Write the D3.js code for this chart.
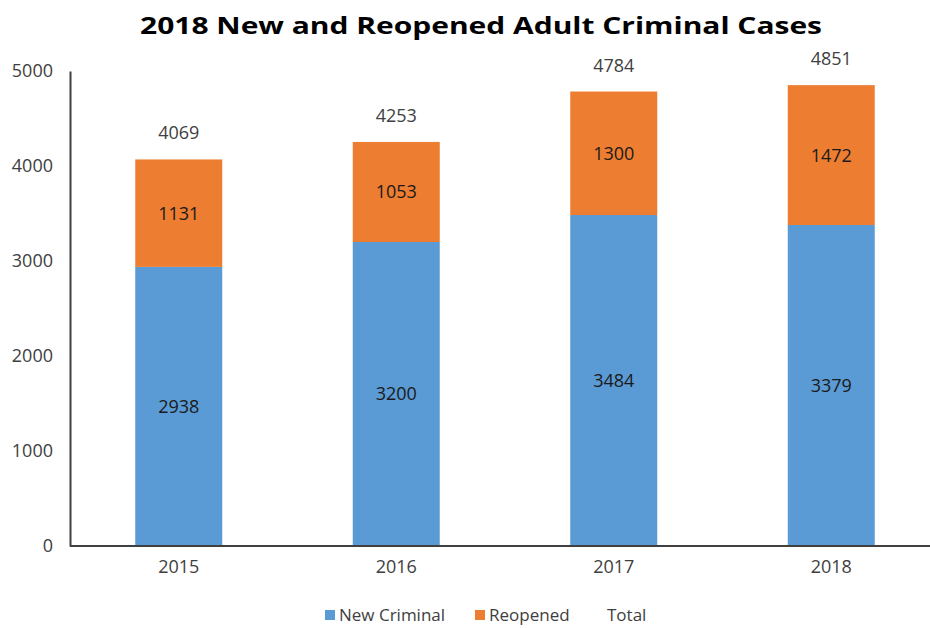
<!DOCTYPE html>
<html>
<head>
<meta charset="utf-8">
<script src="https://d3js.org/d3.v7.min.js"></script>
<style>
  html, body { margin: 0; padding: 0; background: #fff; }
  svg { display: block; font-family: "Open Sans", "DejaVu Sans", sans-serif; }
</style>
</head>
<body>
<svg id="chart" width="930" height="628"></svg>
<script>
// Annual case counts
const years = ["2015", "2016", "2017", "2018"];
const newCriminal = [2938, 3200, 3484, 3379];
const reopened = [1131, 1053, 1300, 1472];
const totals = [4069, 4253, 4784, 4851];
const yTicks = [0, 1000, 2000, 3000, 4000, 5000];
const seriesNames = ["New Criminal", "Reopened", "Total"];
const seriesColors = ["#5B9BD5", "#ED7D31", "none"];

const svg = d3.select("#chart");
const W = 930, H = 628;
const margin = { left: 70, right: 0, top: 71, bottom: 82 };
const plotBottom = H - margin.bottom;

const x = d3.scaleBand()
  .domain(years)
  .range([margin.left, 940])
  .paddingInner(0.6)
  .paddingOuter(0.3);

const y = d3.scaleLinear()
  .domain([0, 5000])
  .range([plotBottom, margin.top]);

// Title
svg.append("text")
  .attr("x", 481)
  .attr("y", 34)
  .attr("text-anchor", "middle")
  .attr("font-size", 23)
  .attr("font-weight", "bold")
  .attr("fill", "#000")
  .attr("textLength", 682)
  .attr("lengthAdjust", "spacingAndGlyphs")
  .text("2018 New and Reopened Adult Criminal Cases");

// Stacked data
const rows = years.map((yr, i) => ({ year: yr, "New Criminal": newCriminal[i], "Reopened": reopened[i], total: totals[i] }));
const stack = d3.stack().keys(["New Criminal", "Reopened"])(rows);

const layers = svg.append("g").selectAll("g")
  .data(stack)
  .join("g")
  .attr("fill", (d, i) => seriesColors[i]);

layers.selectAll("rect")
  .data(d => d)
  .join("rect")
  .attr("x", d => x(d.data.year))
  .attr("width", x.bandwidth())
  .attr("y", d => y(d[1]))
  .attr("height", d => y(d[0]) - y(d[1]));

// Segment value labels
layers.selectAll("text")
  .data(d => d)
  .join("text")
  .attr("x", d => x(d.data.year) + x.bandwidth() / 2)
  .attr("y", d => (y(d[0]) + y(d[1])) / 2)
  .attr("dy", "0.36em")
  .attr("text-anchor", "middle")
  .attr("font-size", 18)
  .attr("fill", "#1a1a1a")
  .text(d => d[1] - d[0]);

// Total labels above each bar
svg.append("g").selectAll("text")
  .data(rows)
  .join("text")
  .attr("x", d => x(d.year) + x.bandwidth() / 2)
  .attr("y", d => y(d.total) - 20)
  .attr("text-anchor", "middle")
  .attr("font-size", 18)
  .attr("fill", "#404040")
  .text(d => d.total);

// Y axis
const yAxis = svg.append("g")
  .attr("transform", `translate(${margin.left},0)`)
  .call(d3.axisLeft(y).tickValues(yTicks).tickSize(0).tickPadding(17).tickFormat(d3.format("d")));
yAxis.select(".domain").attr("stroke", "#404040").attr("stroke-width", 2);
yAxis.selectAll("text").attr("font-size", 18).attr("fill", "#404040").attr("font-family", "Open Sans, sans-serif");

// X axis
const xAxis = svg.append("g")
  .attr("transform", `translate(0,${plotBottom})`)
  .call(d3.axisBottom(x).tickSize(0).tickPadding(14));
xAxis.select(".domain").attr("d", `M${margin.left},0H${W}`).attr("stroke", "#404040").attr("stroke-width", 2);
xAxis.selectAll("text").attr("font-size", 18).attr("fill", "#404040").attr("font-family", "Open Sans, sans-serif");

// Legend
const legendItems = [
  { name: seriesNames[0], color: seriesColors[0], x: 325 },
  { name: seriesNames[1], color: seriesColors[1], x: 475 },
  { name: seriesNames[2], color: seriesColors[2], x: 593 }
];
const legend = svg.append("g").selectAll("g")
  .data(legendItems)
  .join("g")
  .attr("transform", d => `translate(${d.x},615)`);
legend.append("rect")
  .attr("x", 0).attr("y", -5)
  .attr("width", 10).attr("height", 10)
  .attr("fill", d => d.color);
legend.append("text")
  .attr("x", 14)
  .attr("dy", "0.35em")
  .attr("font-size", 17)
  .attr("fill", "#404040")
  .text(d => d.name);
</script>
</body>
</html>
